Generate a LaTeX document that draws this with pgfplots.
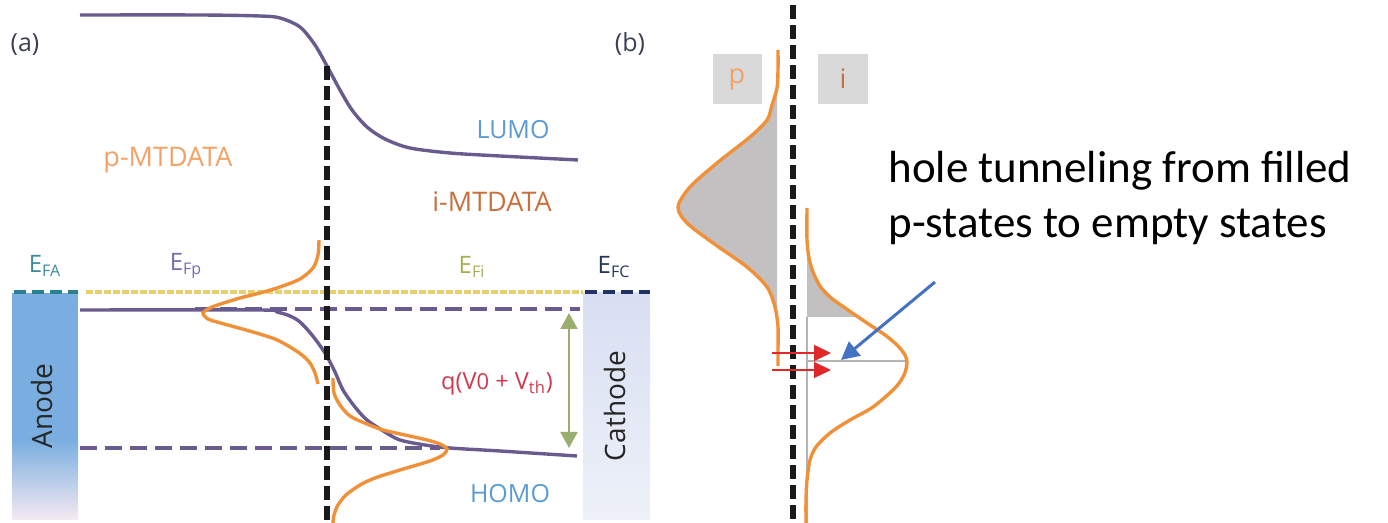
\documentclass[border=0pt]{standalone}
\usepackage{pgfplots}
\pgfplotsset{compat=1.18}
\usepackage{fontspec}
\setmainfont{Open Sans}
\newfontfamily\calibri{Carlito}
\usetikzlibrary{arrows.meta}
\definecolor{lvl}{HTML}{6A5B8E}
\definecolor{gau}{HTML}{F0913A}
\definecolor{porg}{HTML}{F2A266}
\definecolor{iorg}{HTML}{C8703E}
\definecolor{lblue}{HTML}{5B9BD5}
\definecolor{efa}{HTML}{3D8A9A}
\definecolor{efp}{HTML}{7A6AAA}
\definecolor{efi}{HTML}{A8AD55}
\definecolor{efc}{HTML}{253555}
\definecolor{ydot}{HTML}{E8D070}
\definecolor{tdash}{HTML}{2A8090}
\definecolor{ndash}{HTML}{1F3560}
\definecolor{qred}{HTML}{D03A50}
\definecolor{garrow}{HTML}{9AAE6E}
\definecolor{dgray}{HTML}{3A4252}
\definecolor{fillg}{HTML}{C2C0C0}
\definecolor{boxg}{HTML}{D9D9D9}
\definecolor{guidegray}{HTML}{B4B4B4}
\definecolor{barrow}{HTML}{4472C4}
\definecolor{rarrow}{HTML}{E02828}
\definecolor{anodeTop}{HTML}{7AAEE0}
\definecolor{anodeBot}{HTML}{F5EAF2}
\definecolor{cathTop}{HTML}{D8DFF2}
\definecolor{cathBot}{HTML}{EEF1F9}
\newcommand{\fs}[1]{\fontsize{#1}{#1}\selectfont}
\begin{document}
\begin{tikzpicture}
\begin{axis}[name=ax, width=694pt, height=261.5pt, scale only axis, xmin=0, xmax=1388, ymin=0, ymax=523, y dir=reverse, hide axis, clip=false]
% ---------- panel (a) ----------
% anode and cathode blocks
\addplot[draw=none, fill=anodeTop] coordinates {(12,293) (78,293) (78,441) (12,441)} -- cycle;
\addplot[draw=none, top color=anodeTop, bottom color=anodeBot] coordinates {(12,440) (78,440) (78,520) (12,520)} -- cycle;
\addplot[draw=none, top color=cathTop, bottom color=cathBot] coordinates {(583,293) (650,293) (650,520) (583,520)} -- cycle;
\node[rotate=90, font=\fs{14pt}, text=black!85] at (axis cs:42,406) {Anode};
\node[rotate=90, font=\fs{14pt}, text=black!85] at (axis cs:615,406) {Cathode};
% Fermi levels
\addplot[tdash, line width=2pt, dash pattern=on 6pt off 3pt] coordinates {(14,292) (78,292)};
\addplot[ydot, line width=2pt, dash pattern=on 3.5pt off 1pt] coordinates {(86,292) (583,292)};
\addplot[ndash, line width=2pt, dash pattern=on 6pt off 3pt] coordinates {(585,292) (650,292)};
% dashed purple levels
\addplot[lvl, line width=2pt, dash pattern=on 8.5pt off 4pt] coordinates {(195,309) (580,309)};
\addplot[lvl, line width=2pt, dash pattern=on 8.5pt off 4pt] coordinates {(80,448) (440,448)};
% LUMO
\addplot[lvl, line width=1.7pt, smooth] coordinates {(80,15) (200,15) (260,16) (280,18) (300,27) (315,45) (327,66) (340,90) (352,110) (367,127) (385,139) (410,148) (450,153) (500,156) (578,160)};
% HOMO
\addplot[lvl, line width=1.7pt, smooth] coordinates {(80,310) (260,310) (277,312) (290,316) (300,322) (312,335) (325,353) (335,372) (343,390) (355,407) (367,420) (385,432) (400,440) (425,445) (450,448) (500,451) (577,456)};
% gaussians (a)
\addplot[gau, line width=1.7pt, smooth] coordinates {(319,240) (318,255) (313,268) (300,279) (280,287) (260,293) (240,298) (227,302) (212,307) (203,313) (208,319) (217,322) (235,327) (253,332) (275,339) (290,347) (302,355) (310,363) (315,373) (318,384)};
\addplot[gau, line width=1.7pt, smooth] coordinates {(333,378) (334,393) (340,405) (350,416) (367,424) (383,430) (405,435) (427,440) (440,444) (447,449) (443,455) (430,461) (400,470) (375,478) (360,485) (346,495) (338,505) (334,515) (333,523)};
% interface dashed line (a)
\addplot[black!90, line width=2.6pt, dash pattern=on 7pt off 3pt] coordinates {(327,66) (327,523)};
% q(V0+Vth) arrow
\addplot[garrow, line width=1pt, {Triangle[width=8.5pt,length=8pt]}-{Triangle[width=8.5pt,length=8pt]}] coordinates {(569,313) (569,448)};
% labels (a)
\node[font=\fs{12.5pt}, text=dgray] at (axis cs:25,45) {(a)};
\node[font=\fs{13.5pt}, text=porg] at (axis cs:168,160) {p-MTDATA};
\node[font=\fs{13.5pt}, text=iorg] at (axis cs:492,202) {i-MTDATA};
\node[font=\fs{12.5pt}, text=lblue] at (axis cs:513,130) {LUMO};
\node[font=\fs{12.5pt}, text=lblue] at (axis cs:510,494) {HOMO};
\node[font=\fs{12pt}, text=efa] at (axis cs:45,266) {E\textsubscript{FA}};
\node[font=\fs{12pt}, text=efp] at (axis cs:186,266) {E\textsubscript{Fp}};
\node[font=\fs{12pt}, text=efi] at (axis cs:472,267) {E\textsubscript{Fi}};
\node[font=\fs{12pt}, text=efc] at (axis cs:614,267) {E\textsubscript{FC}};
\node[font=\fs{11.8pt}, text=qred] at (axis cs:497,384) {q(V{\fs{11pt}0} + V\textsubscript{th})};
% ---------- panel (b) ----------
\node[font=\fs{12.5pt}, text=dgray] at (axis cs:630,44) {(b)};
\addplot[draw=none, fill=boxg] coordinates {(713,54) (762,54) (762,104) (713,104)} -- cycle;
\addplot[draw=none, fill=boxg] coordinates {(818,54) (868,54) (868,104) (818,104)} -- cycle;
\node[font=\fs{13.5pt}, text=porg] at (axis cs:737,79) {p};
\node[font=\fs{13.5pt}, text=iorg] at (axis cs:843,79) {i};
% filled parts
\addplot[draw=none, fill=fillg] coordinates {(777,88) (772,105) (767,120) (750,137) (733,150) (717,163) (700,177) (690,187) (681,198) (678,207) (681,216) (687,223) (700,233) (713,243) (730,255) (747,267) (759,277) (767,287) (772,297) (775,307) (776,315) (777,315)} -- cycle;
\addplot[draw=none, fill=fillg] coordinates {(807,245) (809,258) (813,271) (818,282) (827,292) (837,302) (848,310) (857,317) (807,317)} -- cycle;
% thin gray guide lines
\addplot[guidegray, line width=0.6pt] coordinates {(807,317) (807,523)};
\addplot[guidegray, line width=0.6pt] coordinates {(807,361) (905,361)};
% gaussians (b)
\addplot[gau, line width=1.7pt, smooth] coordinates {(778,50) (778,70) (777,88) (772,105) (767,120) (750,137) (717,163) (690,187) (678,207) (687,223) (713,243) (747,267) (767,287) (775,307) (778,327) (778,350) (778,366)};
\addplot[gau, line width=1.7pt, smooth] coordinates {(807,208) (807,240) (809,258) (813,272) (820,286) (830,297) (848,310) (867,323) (885,335) (897,345) (905,355) (907,363) (904,375) (895,388) (873,407) (850,420) (830,433) (816,447) (810,460) (807,480) (806,500) (806,523)};
% interface dashed line (b)
\addplot[black!90, line width=2.6pt, dash pattern=on 7pt off 3pt] coordinates {(793,5) (793,523)};
% red tunneling arrows
\addplot[rarrow, line width=0.7pt, -{Triangle[width=8pt,length=8.5pt]}] coordinates {(772,353) (831,353)};
\addplot[rarrow, line width=0.7pt, -{Triangle[width=8pt,length=8.5pt]}] coordinates {(772,370) (831,370)};
% blue arrow
\addplot[barrow, line width=1.5pt, -{Triangle[width=9pt,length=9pt]}] coordinates {(935,282) (841,360)};
% annotation text
\node[font={\calibri\fs{22.5pt}}, anchor=base west, inner sep=0pt] at (axis cs:888,183) {hole tunneling from filled};
\node[font={\calibri\fs{22.5pt}}, anchor=base west, inner sep=0pt] at (axis cs:888,238) {p-states to empty states};
\end{axis}
\pgfresetboundingbox
\path (ax.south west) rectangle (ax.north east);
\end{tikzpicture}
\end{document}
